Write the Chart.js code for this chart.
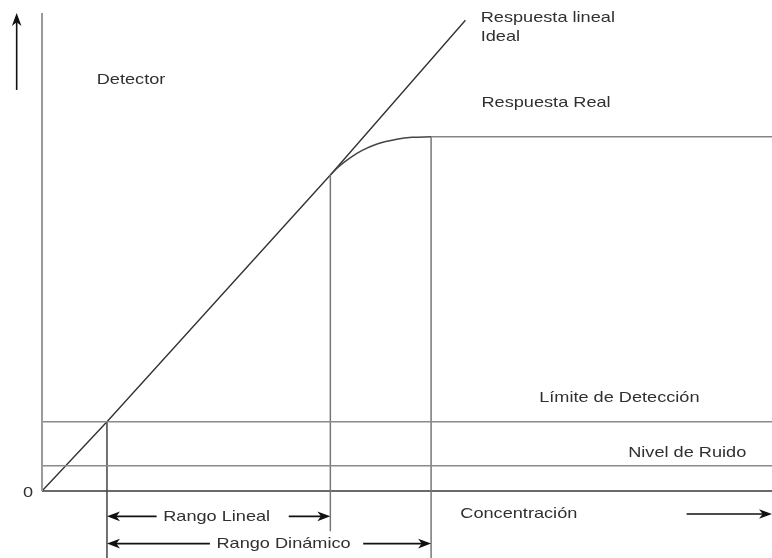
<!DOCTYPE html>
<html><head><meta charset="utf-8">
<script src="https://cdn.jsdelivr.net/npm/chart.js@4.4.1/dist/chart.umd.min.js"></script>
<style>html,body{margin:0;padding:0;background:#fff}#wrap{width:772px;height:558px;position:relative}</style>
</head><body><div id="wrap"><canvas id="c"></canvas></div>
<script>
// ---- data (arbitrary units: concentration 0..100, response 0..100) ----
const idealX = [0, 8.9, 39.5, 58.0];
const idealY = [0, 14.5, 66.1, 98.5];
const realX  = [39.5, 40.6, 42.2, 43.8, 45.9, 48.6, 50.7, 53.3];
const realY  = [66.1, 67.8, 69.7, 71.2, 72.6, 73.6, 74.0, 74.1];
const xMax = 100, yMax = 100;
const noiseLevel = 5.3;
const detectionLimit = 14.5;
const lodX = 8.9;
const linearLimitX = 39.5;
const dynamicLimitX = 53.3;
const saturationY = 74.1;
const bottomY = -14.0;
const linearVerticalBottom = -8.4;
const tickLabels = ['0'];

function pts(xs, ys){ return xs.map((x,i)=>({x:x, y:ys[i]})); }
function seg(x1,y1,x2,y2){ return [{x:x1,y:y1},{x:x2,y:y2}]; }
function ds(data, color, width, extra){
  return Object.assign({data:data, showLine:true, borderColor:color, borderWidth:width,
    pointRadius:0, clip:false, fill:false}, extra||{});
}

const datasets = [
  ds(seg(0,0,0,yMax), '#9a9a9a', 2),
  ds(seg(0,noiseLevel,xMax,noiseLevel), '#8a8a8a', 1.5),
  ds(seg(0,detectionLimit,xMax,detectionLimit), '#8a8a8a', 1.5),
  ds(seg(dynamicLimitX,saturationY,xMax,saturationY), '#858585', 1.5),
  ds(seg(lodX,detectionLimit,lodX,bottomY), '#444', 1.5),
  ds(seg(linearLimitX,idealY[2],linearLimitX,linearVerticalBottom), '#777', 1.5),
  ds(seg(dynamicLimitX,saturationY,dynamicLimitX,bottomY), '#777', 1.5),
  ds(seg(0,0,xMax,0), '#3a3a3a', 1.5),
  ds(pts(realX, realY), '#444', 1.5, {cubicInterpolationMode:'monotone'}),
  ds(pts(idealX, idealY), '#333', 1.4)
];

const labels = [
  {t:'Detector', x:7.5, y:85.1},
  {t:'Respuesta lineal', x:60.1, y:98.1},
  {t:'Ideal', x:60.1, y:94.2},
  {t:'Respuesta Real', x:60.2, y:80.3},
  {t:'Límite de Detección', x:68.1, y:18.7},
  {t:'Nivel de Ruido', x:80.3, y:7.2},
  {t:'Concentración', x:57.3, y:-5.7},
  {t:'Rango Lineal', x:16.6, y:-6.2},
  {t:'Rango Dinámico', x:23.9, y:-12.0},
  {t:tickLabels[0], x:-2.6, y:-1.2}
];
const arrows = [
  [15.7,-5.3, lodX,-5.3],
  [33.8,-5.3, linearLimitX,-5.3],
  [23.0,-11.0, lodX,-11.0],
  [44.0,-11.0, dynamicLimitX,-11.0],
  [88.3,-4.8, xMax,-4.8],
  [-3.47,83.9, -3.47,yMax]
];

function arrow(ctx,x1,y1,x2,y2){
  const L=13, W=4.8;
  const a=Math.atan2(y2-y1,x2-x1);
  ctx.beginPath(); ctx.moveTo(x1,y1);
  ctx.lineTo(x2-Math.cos(a)*L*0.6, y2-Math.sin(a)*L*0.6); ctx.stroke();
  ctx.save(); ctx.translate(x2,y2); ctx.rotate(a);
  ctx.beginPath(); ctx.moveTo(0,0); ctx.lineTo(-L,-W); ctx.lineTo(-L*0.72,0); ctx.lineTo(-L,W);
  ctx.closePath(); ctx.fill(); ctx.restore();
}

const annot = {
  id:'annot',
  afterDatasetsDraw(chart){
    const ctx=chart.ctx, xs=chart.scales.x, ys=chart.scales.y;
    const px=v=>xs.getPixelForValue(v), py=v=>ys.getPixelForValue(v);
    ctx.save();
    ctx.strokeStyle='#111'; ctx.fillStyle='#111'; ctx.lineWidth=1.6;
    arrows.forEach(a=>arrow(ctx,px(a[0]),py(a[1]),px(a[2]),py(a[3])));
    ctx.fillStyle='#303030';
    ctx.font='15px "Liberation Sans", Arial, sans-serif';
    ctx.textAlign='left'; ctx.textBaseline='alphabetic';
    labels.forEach(l=>{
      ctx.save(); ctx.translate(px(l.x),py(l.y)); ctx.scale(1.21,1);
      ctx.fillText(l.t,0,0); ctx.restore();
    });
    ctx.restore();
  }
};

new Chart(document.getElementById('c'), {
  type:'scatter',
  data:{datasets:datasets},
  options:{
    responsive:true, maintainAspectRatio:false, animation:false, events:[],
    layout:{padding:{left:42,right:0,top:13,bottom:67}},
    scales:{
      x:{type:'linear',min:0,max:xMax,display:false},
      y:{type:'linear',min:0,max:yMax,display:false}
    },
    plugins:{legend:{display:false},tooltip:{enabled:false}}
  },
  plugins:[annot]
});
</script>
</body></html>
